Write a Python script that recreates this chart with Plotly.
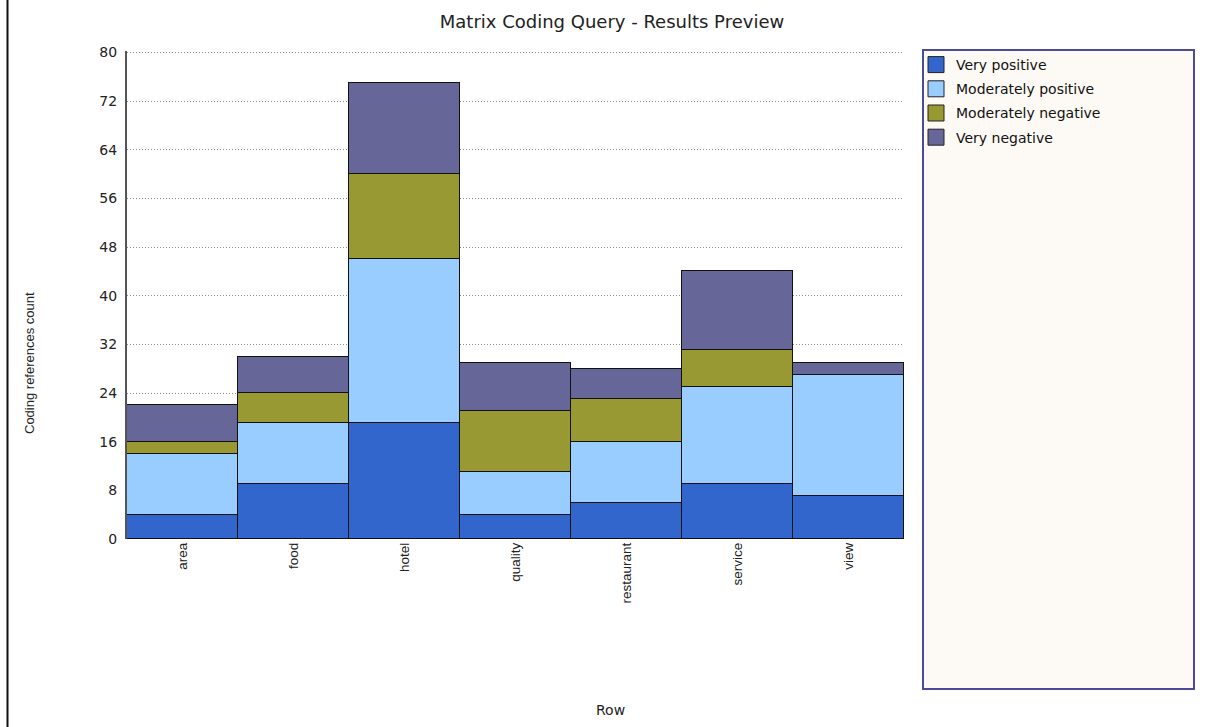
import plotly.graph_objects as go

# Matrix coding query results: coding reference counts per row node
categories = ["area", "food", "hotel", "quality", "restaurant", "service", "view"]
very_positive = [4, 9, 19, 4, 6, 9, 7]
moderately_positive = [10, 10, 27, 7, 10, 16, 20]
moderately_negative = [2, 5, 14, 10, 7, 6, 0]
very_negative = [6, 6, 15, 8, 5, 13, 2]

series = [
    ("Very positive", very_positive, "#3366CC"),
    ("Moderately positive", moderately_positive, "#99CCFF"),
    ("Moderately negative", moderately_negative, "#999933"),
    ("Very negative", very_negative, "#666699"),
]

y_ticks = list(range(0, 81, 8))

WIDE = "DejaVu Sans, Verdana, sans-serif"
NARROW = "Liberation Sans, Arial, sans-serif"

W, H = 1206, 727
L, R, T, B = 127, 302, 51, 188
PW, PH = W - L - R, H - T - B


def px_x(x):
    return (x - L) / PW


def px_y(y):
    return (H - B - y) / PH


fig = go.Figure()
for i, (name, vals, color) in enumerate(series):
    fig.add_trace(go.Bar(
        x=categories, y=vals, name=name, showlegend=False,
        marker=dict(color=color, line=dict(color="#111111", width=1.5)),
    ))
    # legend entry with a larger square swatch
    fig.add_trace(go.Scatter(
        x=[None], y=[None], mode="markers", name=name, legendgroup=f"g{i}",
        marker=dict(symbol="square", size=16, color=color,
                    line=dict(color="#222222", width=1)),
    ))

fig.update_layout(
    width=W, height=H,
    margin=dict(l=L, r=R, t=T, b=B),
    barmode="stack", bargap=0,
    paper_bgcolor="white", plot_bgcolor="white",
    font=dict(family=WIDE, color="#222222"),
    title=dict(text="Matrix Coding Query - Results Preview",
               x=612 / W, xanchor="center", y=1 - 22 / H, yanchor="middle",
               font=dict(size=18, color="#222222", family=WIDE)),
    xaxis=dict(
        range=[-0.5, 6.5], tickangle=-90, showgrid=False, ticks="",
        tickfont=dict(size=13.5, family=NARROW), showline=False,
    ),
    yaxis=dict(
        range=[0, 80.25], tickvals=y_ticks, showgrid=True, gridcolor="#8a8a8a",
        griddash="1px,2px", gridwidth=1, zeroline=False, ticks="",
        showline=True, linecolor="#555555", linewidth=2,
        tickfont=dict(size=14, family=WIDE), ticklabelstandoff=5,
    ),
    legend=dict(
        x=px_x(916), y=px_y(49), xanchor="left", yanchor="top",
        bgcolor="rgba(0,0,0,0)", borderwidth=0,
        traceorder="grouped", tracegroupgap=3,
        font=dict(size=14, color="#111111", family=WIDE),
    ),
    shapes=[
        # legend panel
        dict(type="rect", xref="paper", yref="paper", layer="below",
             x0=px_x(923), x1=px_x(1194), y0=px_y(689), y1=px_y(50),
             fillcolor="#FDFAF5", line=dict(color="#4B4B96", width=2)),
        # left frame line
        dict(type="line", xref="paper", yref="paper",
             x0=px_x(7.5), x1=px_x(7.5), y0=px_y(727), y1=px_y(0),
             line=dict(color="#111111", width=2)),
    ],
    annotations=[
        dict(text="Coding references count", xref="paper", yref="paper",
             x=px_x(29), y=px_y(363), textangle=-90, showarrow=False,
             xanchor="center", yanchor="middle",
             font=dict(size=13, family=NARROW)),
        dict(text="Row", xref="paper", yref="paper",
             x=px_x(610), y=px_y(710), showarrow=False,
             xanchor="center", yanchor="middle",
             font=dict(size=14, family=WIDE)),
    ],
)

fig.write_html("out.html")
